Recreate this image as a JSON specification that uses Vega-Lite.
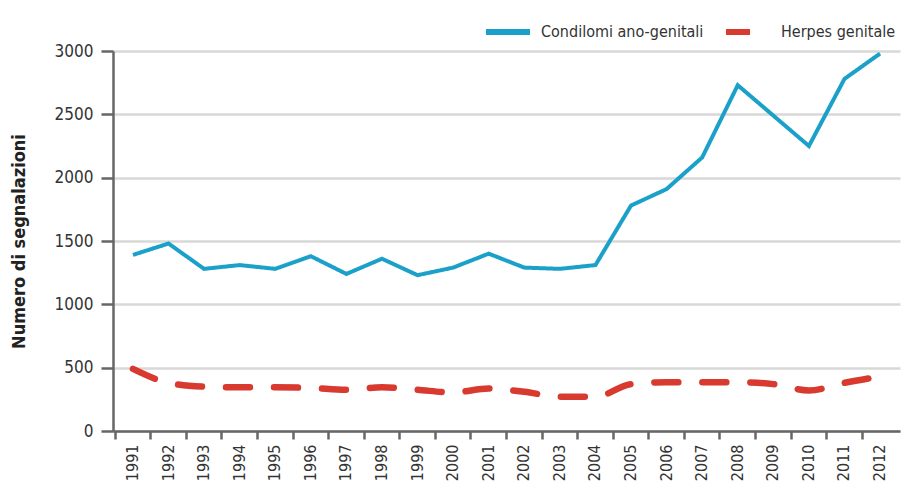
{
  "$schema": "https://vega.github.io/schema/vega-lite/v6.json",
  "width": 787,
  "height": 380,
  "autosize": "none",
  "padding": {"left": 113, "top": 51, "right": 1, "bottom": 59},
  "background": "white",
  "config": {"view": {"stroke": null}, "font": "DejaVu Sans Condensed"},
  "data": {"values": [
    {"year": "1991", "serie": "Condilomi ano-genitali", "value": 1390},
    {"year": "1992", "serie": "Condilomi ano-genitali", "value": 1480},
    {"year": "1993", "serie": "Condilomi ano-genitali", "value": 1280},
    {"year": "1994", "serie": "Condilomi ano-genitali", "value": 1310},
    {"year": "1995", "serie": "Condilomi ano-genitali", "value": 1280},
    {"year": "1996", "serie": "Condilomi ano-genitali", "value": 1380},
    {"year": "1997", "serie": "Condilomi ano-genitali", "value": 1240},
    {"year": "1998", "serie": "Condilomi ano-genitali", "value": 1360},
    {"year": "1999", "serie": "Condilomi ano-genitali", "value": 1230},
    {"year": "2000", "serie": "Condilomi ano-genitali", "value": 1290},
    {"year": "2001", "serie": "Condilomi ano-genitali", "value": 1400},
    {"year": "2002", "serie": "Condilomi ano-genitali", "value": 1290},
    {"year": "2003", "serie": "Condilomi ano-genitali", "value": 1280},
    {"year": "2004", "serie": "Condilomi ano-genitali", "value": 1310},
    {"year": "2005", "serie": "Condilomi ano-genitali", "value": 1780},
    {"year": "2006", "serie": "Condilomi ano-genitali", "value": 1910},
    {"year": "2007", "serie": "Condilomi ano-genitali", "value": 2160},
    {"year": "2008", "serie": "Condilomi ano-genitali", "value": 2730},
    {"year": "2009", "serie": "Condilomi ano-genitali", "value": 2490},
    {"year": "2010", "serie": "Condilomi ano-genitali", "value": 2250},
    {"year": "2011", "serie": "Condilomi ano-genitali", "value": 2780},
    {"year": "2012", "serie": "Condilomi ano-genitali", "value": 2980},
    {"year": "1991", "serie": "Herpes genitale", "value": 490},
    {"year": "1992", "serie": "Herpes genitale", "value": 380},
    {"year": "1993", "serie": "Herpes genitale", "value": 350},
    {"year": "1994", "serie": "Herpes genitale", "value": 345},
    {"year": "1995", "serie": "Herpes genitale", "value": 345},
    {"year": "1996", "serie": "Herpes genitale", "value": 340},
    {"year": "1997", "serie": "Herpes genitale", "value": 325},
    {"year": "1998", "serie": "Herpes genitale", "value": 345},
    {"year": "1999", "serie": "Herpes genitale", "value": 325},
    {"year": "2000", "serie": "Herpes genitale", "value": 305},
    {"year": "2001", "serie": "Herpes genitale", "value": 335},
    {"year": "2002", "serie": "Herpes genitale", "value": 310},
    {"year": "2003", "serie": "Herpes genitale", "value": 270},
    {"year": "2004", "serie": "Herpes genitale", "value": 270},
    {"year": "2005", "serie": "Herpes genitale", "value": 370},
    {"year": "2006", "serie": "Herpes genitale", "value": 385},
    {"year": "2007", "serie": "Herpes genitale", "value": 385},
    {"year": "2008", "serie": "Herpes genitale", "value": 385},
    {"year": "2009", "serie": "Herpes genitale", "value": 370},
    {"year": "2010", "serie": "Herpes genitale", "value": 320},
    {"year": "2011", "serie": "Herpes genitale", "value": 380},
    {"year": "2012", "serie": "Herpes genitale", "value": 430}
  ]},
  "encoding": {
    "x": {
      "field": "year", "type": "ordinal",
      "scale": {"type": "band", "paddingInner": 0, "paddingOuter": 0.06},
      "axis": {
        "title": null, "labelAngle": -90, "labelAlign": "right", "labelBaseline": "middle",
        "labelFontSize": 16, "labelColor": "#333333", "labelPadding": 5,
        "bandPosition": 0, "tickSize": 8, "tickWidth": 2.5, "tickColor": "#666666",
        "domainColor": "#666666", "domainWidth": 2.5, "grid": false
      }
    },
    "y": {
      "field": "value", "type": "quantitative",
      "scale": {"domain": [0, 3000], "nice": false},
      "axis": {
        "title": "Numero di segnalazioni", "titleFontSize": 18, "titleFontWeight": "bold",
        "titleColor": "#222222", "titlePadding": 26, "format": "d",
        "values": [0, 500, 1000, 1500, 2000, 2500, 3000],
        "labelFontSize": 17, "labelColor": "#333333", "labelPadding": 8,
        "tickSize": 12, "tickWidth": 2.5, "tickColor": "#666666",
        "domainColor": "#666666", "domainWidth": 2.5,
        "grid": true, "gridColor": "#d8d8d8", "gridWidth": 2.5
      }
    },
    "color": {
      "field": "serie", "type": "nominal",
      "scale": {"domain": ["Condilomi ano-genitali", "Herpes genitale"], "range": ["#1ba1c9", "#d93a2f"]},
      "legend": {
        "title": null, "orient": "none", "legendX": 370, "legendY": -44, "direction": "horizontal",
        "symbolType": "stroke", "symbolSize": 1936, "symbolStrokeWidth": 6,
        "labelFontSize": 16, "labelColor": "#333333", "columnPadding": 10, "labelOffset": 8, "labelLimit": 400
      }
    },
    "strokeDash": {
      "field": "serie", "type": "nominal",
      "scale": {"domain": ["Condilomi ano-genitali", "Herpes genitale"], "range": [[1, 0], [24, 24]]},
      "legend": {
        "title": null, "orient": "none", "legendX": 370, "legendY": -44, "direction": "horizontal",
        "symbolType": "stroke", "symbolSize": 1936, "symbolStrokeWidth": 6,
        "labelFontSize": 16, "labelColor": "#333333", "columnPadding": 10, "labelOffset": 8, "labelLimit": 400
      }
    }
  },
  "layer": [
    {
      "transform": [{"filter": "datum.serie === 'Condilomi ano-genitali'"}],
      "mark": {"type": "line", "strokeWidth": 4}
    },
    {
      "transform": [{"filter": "datum.serie === 'Herpes genitale'"}],
      "mark": {"type": "line", "strokeWidth": 6.5, "interpolate": "monotone", "strokeCap": "round"}
    }
  ]
}
